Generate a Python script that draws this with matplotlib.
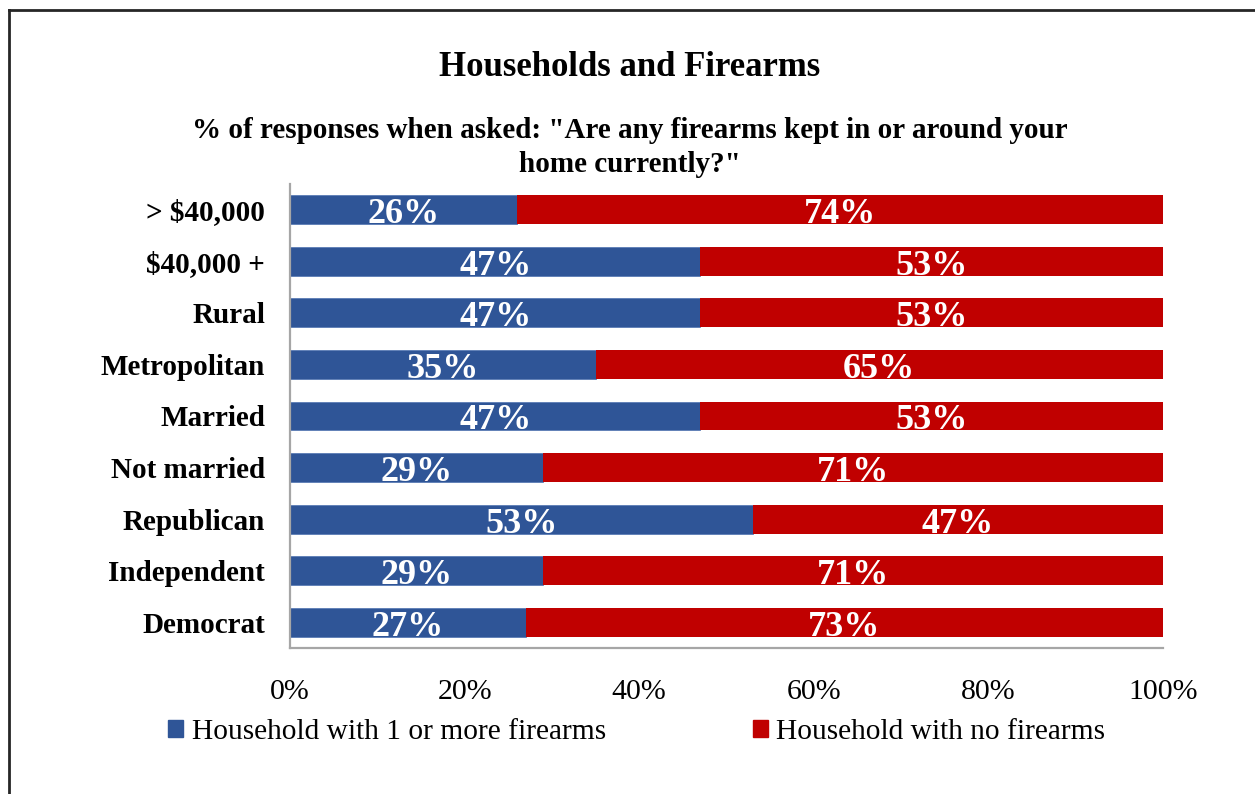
import matplotlib
matplotlib.use('Agg')
import matplotlib.pyplot as plt
from matplotlib.patches import Patch
from matplotlib.lines import Line2D
import numpy as np

plt.rcParams['font.family'] = ['Liberation Serif', 'DejaVu Serif']

categories = ['> $40,000', '$40,000 +', 'Rural', 'Metropolitan', 'Married',
              'Not married', 'Republican', 'Independent', 'Democrat']
with_guns = [26, 47, 47, 35, 47, 29, 53, 29, 27]
no_guns = [74, 53, 53, 65, 53, 71, 47, 71, 73]
series_names = ['Household with 1 or more firearms', 'Household with no firearms']
xticks = [0, 20, 40, 60, 80, 100]

blue = '#2F5597'
red = '#C00000'

W, H = 1255, 794
fig = plt.figure(figsize=(W / 100, H / 100), dpi=100)
ax = fig.add_axes([290 / W, 1 - 648 / H, (1163 - 290) / W, (648 - 184) / H])

y = np.arange(len(categories))
bh = 0.56
b1 = ax.barh(y, with_guns, height=bh, color=blue, edgecolor='#5b7cb5', linewidth=0.6)
b2 = ax.barh(y, no_guns, left=with_guns, height=bh, color=red, linewidth=0)

ax.set_ylim(len(categories) - 0.5, -0.5)
ax.set_xlim(0, 100)

for bars, vals, lefts in [(b1, with_guns, [0] * len(y)), (b2, no_guns, with_guns)]:
    for rect, v, l, yi in zip(bars, vals, lefts, y):
        t = ax.text(l + v / 2, yi + bh / 2 - 0.02, f'{v}%', ha='center', va='baseline',
                    color='white', fontsize=26, fontweight='bold')
        t.set_clip_path(rect)

ax.set_yticks(y)
ax.set_yticklabels(categories, fontsize=21, fontweight='bold')
ax.set_xticks(xticks)
ax.set_xticklabels([f'{v}%' for v in xticks], fontsize=21.5)
ax.tick_params(axis='both', length=0)
ax.tick_params(axis='y', pad=18)
ax.tick_params(axis='x', pad=22)

for s in ['top', 'right']:
    ax.spines[s].set_visible(False)
for s in ['left', 'bottom']:
    ax.spines[s].set_color('#A6A6A6')
    ax.spines[s].set_linewidth(1.6)

fig.text(630 / W, 1 - 68 / H, 'Households and Firearms', ha='center', va='center',
         fontsize=25, fontweight='bold')
fig.text(630 / W, 1 - 131 / H,
         '% of responses when asked: "Are any firearms kept in or around your',
         ha='center', va='center', fontsize=21, fontweight='bold')
fig.text(630 / W, 1 - 165 / H, 'home currently?"', ha='center', va='center',
         fontsize=21, fontweight='bold')

handles = [Patch(color=blue), Patch(color=red)]
fig.legend(handles, series_names, loc='center left', bbox_to_anchor=(168 / W, 1 - 732 / H),
           ncol=2, frameon=False, fontsize=21.2, handlelength=0.5, handleheight=0.5,
           handletextpad=0.3, columnspacing=5.0, borderpad=0, borderaxespad=0)

# outer frame (top and left edges visible)
fig.add_artist(Line2D([9 / W, 1], [1 - 9.5 / H, 1 - 9.5 / H], color='#262626', lw=2,
                      transform=fig.transFigure))
fig.add_artist(Line2D([9 / W, 9 / W], [0, 1 - 9.5 / H], color='#262626', lw=2,
                      transform=fig.transFigure))

fig.savefig('out.png', dpi=100)
